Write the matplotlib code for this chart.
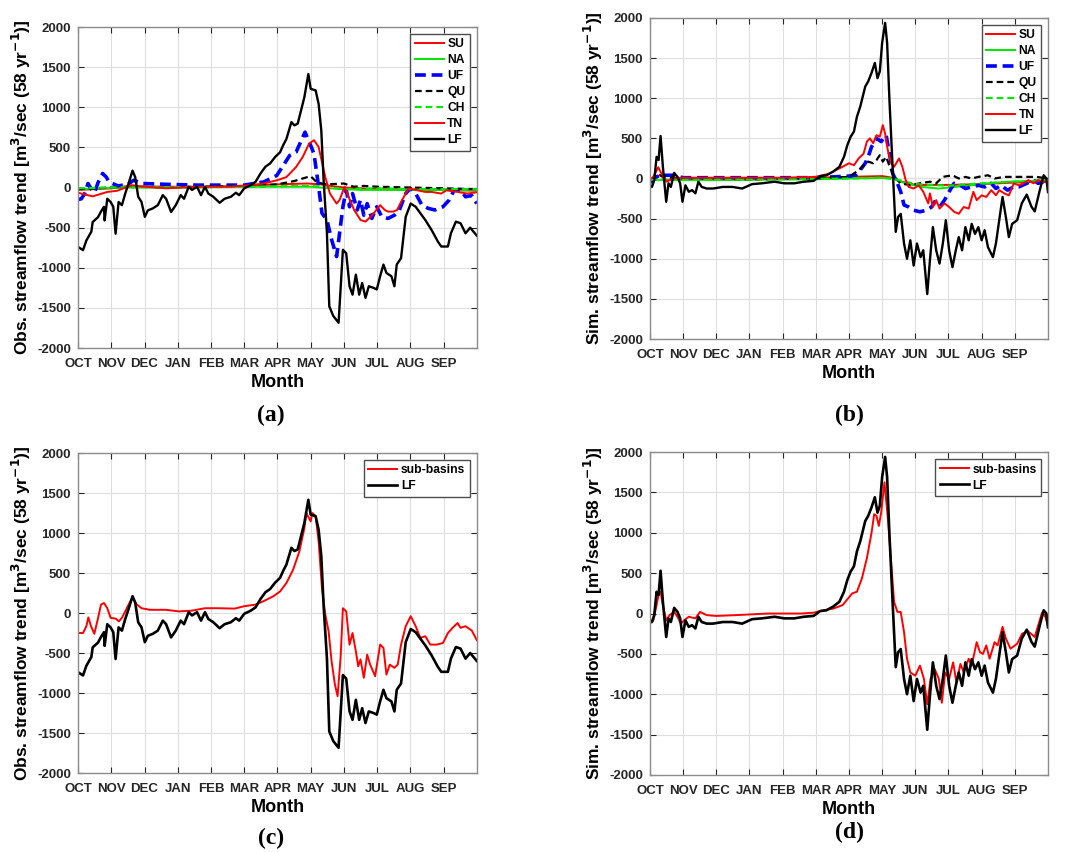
import numpy as np
import matplotlib
matplotlib.use("Agg")
import matplotlib.pyplot as plt

plt.rcParams['font.family'] = ['Liberation Sans', 'DejaVu Sans']
plt.rcParams['font.weight'] = 'bold'
plt.rcParams['axes.unicode_minus'] = False

months = ['OCT', 'NOV', 'DEC', 'JAN', 'FEB', 'MAR', 'APR', 'MAY', 'JUN', 'JUL', 'AUG', 'SEP']
yticks = [-2000, -1500, -1000, -500, 0, 500, 1000, 1500, 2000]

# (month since 1 Oct, trend) pairs
obs_lf = [(0, -740), (0.15, -780), (0.25, -660), (0.4, -550), (0.44, -430), (0.6, -370), (0.69, -300),
          (0.78, -240), (0.8, -410), (0.88, -140), (0.98, -180), (1.06, -240), (1.13, -575), (1.22, -180),
          (1.32, -220), (1.42, -75), (1.52, 50), (1.64, 210), (1.72, 130), (1.81, -115), (1.91, -180),
          (2.01, -365), (2.1, -285), (2.25, -260), (2.4, -220), (2.55, -95), (2.65, -140), (2.8, -305),
          (2.94, -220), (3.09, -95), (3.19, -140), (3.33, 10), (3.43, -30), (3.58, 10), (3.7, -95),
          (3.82, 10), (3.92, -75), (4.07, -115), (4.26, -190), (4.41, -140), (4.6, -115), (4.75, -65),
          (4.85, -95), (5.0, -10), (5.2, 30), (5.34, 70), (5.49, 175), (5.64, 260), (5.78, 300),
          (5.93, 380), (6.08, 440), (6.17, 525), (6.27, 605), (6.42, 815), (6.51, 775), (6.61, 795),
          (6.71, 960), (6.81, 1125), (6.93, 1415), (7.0, 1230), (7.15, 1210), (7.24, 1040), (7.32, 710),
          (7.39, 90), (7.49, -570), (7.56, -1480), (7.68, -1600), (7.84, -1685), (7.97, -775),
          (8.07, -820), (8.17, -1230), (8.26, -1335), (8.36, -1085), (8.46, -1335), (8.55, -1190),
          (8.65, -1375), (8.75, -1230), (8.89, -1250), (8.99, -1270), (9.09, -1105), (9.19, -960),
          (9.28, -1065), (9.43, -1105), (9.52, -1230), (9.59, -960), (9.72, -880), (9.86, -365),
          (10.01, -200), (10.16, -240), (10.3, -320), (10.45, -405), (10.64, -530), (10.83, -675),
          (10.93, -735), (11.13, -735), (11.22, -570), (11.37, -425), (11.51, -445), (11.66, -570),
          (11.8, -500), (12.0, -600)]
obs_su = [(0, -30), (1, -10), (1.6, 20), (2, 10), (4, 10), (5, 20), (6, 40), (6.9, 50), (7.3, 40),
          (7.6, 20), (8, 0), (9, -20), (10, -30), (11, -30), (12, -40)]
obs_na = [(0, -20), (1.5, 0), (3, 0), (5, 10), (7, 10), (7.6, -10), (8.5, -30), (10, -30), (12, -30)]
obs_ch = [(0, -10), (1.5, 5), (4, 5), (6, 15), (7, 20), (7.5, 0), (8, -20), (9, -10), (10, -20), (12, -20)]
obs_qu = [(0, -20), (1.5, 10), (3, 5), (5, 20), (5.6, 30), (6, 40), (6.5, 80), (6.9, 130), (7.0, 140),
          (7.2, 60), (7.5, 40), (8, 50), (8.3, 10), (8.6, 20), (9, 10), (10, 0), (11, -10), (12, -20)]
obs_tn = [(0, -65), (0.44, -110), (0.88, -55), (1.18, -40), (1.62, 30), (1.86, 15), (2.65, -10), (3.6, 10),
          (4.6, 10), (5.2, 30), (5.59, 50), (5.98, 90), (6.27, 130), (6.56, 255), (6.76, 380), (6.95, 545),
          (7.1, 590), (7.24, 505), (7.44, 130), (7.58, -75), (7.78, -200), (7.87, -155), (8.02, 10),
          (8.14, -115), (8.31, -280), (8.5, -405), (8.65, -425), (8.8, -365), (8.94, -300), (9.09, -220),
          (9.23, -280), (9.33, -300), (9.48, -300), (9.6, -280), (9.72, -180), (9.86, -75), (9.96, -10),
          (10.16, -30), (10.45, -55), (10.64, -55), (10.93, -75), (11.08, -35), (11.42, -55), (11.71, -75),
          (12, -60)]
obs_uf = [(0, -150), (0.1, -140), (0.2, -75), (0.3, 50), (0.4, -20), (0.5, -60), (0.6, 60), (0.74, 175),
          (0.85, 130), (0.93, 70), (1.2, 20), (1.5, 40), (1.67, 90), (1.96, 50), (2.65, 40), (3.6, 30),
          (5, 30), (5.59, 70), (5.98, 150), (6.37, 400), (6.56, 440), (6.83, 690), (7.0, 525), (7.1, 420),
          (7.24, 10), (7.34, -320), (7.49, -405), (7.63, -650), (7.78, -860), (7.87, -570), (7.97, -240),
          (8.07, -30), (8.17, -240), (8.26, -75), (8.4, -280), (8.5, -155), (8.6, -345), (8.7, -200),
          (8.84, -385), (8.99, -240), (9.14, -365), (9.33, -385), (9.52, -345), (9.67, -280), (9.86, -75),
          (10.0, -10), (10.16, -75), (10.35, -220), (10.54, -260), (10.74, -280), (10.98, -240),
          (11.17, -155), (11.32, -30), (11.51, -30), (11.66, -115), (11.85, -100), (12, -200)]

sim_lf = [(0, -85), (0.06, -105), (0.13, -20), (0.2, 270), (0.26, 230), (0.32, 530), (0.39, 145),
          (0.49, -290), (0.56, -60), (0.63, -105), (0.73, 70), (0.83, 20), (0.91, -60), (0.98, -290),
          (1.07, -85), (1.17, -165), (1.27, -145), (1.37, -185), (1.46, -40), (1.56, -105), (1.71, -125),
          (1.9, -125), (2.2, -105), (2.49, -105), (2.78, -125), (3.08, -70), (3.37, -60), (3.76, -40),
          (4.05, -60), (4.35, -60), (4.64, -40), (4.93, -30), (5.13, 30), (5.32, 40), (5.52, 85),
          (5.71, 145), (5.85, 270), (5.95, 415), (6.05, 520), (6.15, 585), (6.24, 770), (6.34, 895),
          (6.49, 1145), (6.58, 1210), (6.68, 1315), (6.78, 1440), (6.86, 1250), (6.93, 1335), (7.0, 1690),
          (7.09, 1940), (7.15, 1690), (7.22, 980), (7.32, 105), (7.41, -665), (7.48, -480), (7.56, -440),
          (7.66, -810), (7.75, -1000), (7.85, -770), (7.95, -1085), (8.05, -810), (8.16, -980),
          (8.24, -895), (8.36, -1440), (8.44, -1020), (8.53, -605), (8.63, -895), (8.73, -1060),
          (8.83, -810), (8.92, -520), (9.02, -895), (9.12, -1105), (9.22, -895), (9.31, -730),
          (9.41, -895), (9.51, -605), (9.61, -770), (9.7, -565), (9.8, -690), (9.9, -605), (10.0, -770),
          (10.09, -645), (10.19, -855), (10.34, -980), (10.43, -810), (10.53, -520), (10.63, -230),
          (10.73, -480), (10.82, -730), (10.92, -565), (11.07, -520), (11.21, -310), (11.36, -200),
          (11.5, -350), (11.6, -410), (11.75, -150), (11.87, 40), (11.95, 0), (12, -170)]
sim_su = [(0, -10), (0.3, 40), (0.5, -20), (1, 0), (3, 0), (5, 10), (6, 20), (7, 30), (7.3, 10),
          (7.6, -40), (8, -80), (9, -80), (10, -70), (11, -50), (12, -40)]
sim_na = [(0, -20), (2, -20), (5, -10), (6, 0), (7, 5), (7.3, 0), (7.7, -60), (8.2, -105), (8.7, -125),
          (9.2, -105), (9.7, -85), (10.2, -60), (10.8, -40), (11.5, -30), (12, -20)]
sim_ch = [(0, -15), (3, -10), (6, 0), (7, 10), (7.4, -10), (8, -70), (9, -90), (10, -60), (11, -40), (12, -20)]
sim_qu = [(0, -20), (0.3, 40), (0.6, 10), (1, 0), (3, -10), (5, 0), (6, 20), (6.3, 105), (6.44, 165),
          (6.58, 210), (6.73, 190), (6.83, 230), (6.93, 290), (7.02, 210), (7.12, 270), (7.25, 125),
          (7.36, 20), (7.56, -60), (7.85, -85), (8.14, -60), (8.44, -40), (8.63, -60), (8.83, 20),
          (9.12, 40), (9.31, 0), (9.51, 20), (9.7, 0), (9.9, 20), (10.19, 40), (10.39, 0), (10.68, 20),
          (11.07, 20), (11.36, 20), (11.65, 20), (12, 0)]
sim_uf = [(0, -50), (0.2, 20), (0.3, 40), (0.7, 40), (1.0, 10), (2, 10), (5, 10), (5.5, 20), (6.0, 30),
          (6.2, 40), (6.34, 105), (6.49, 190), (6.58, 270), (6.68, 395), (6.83, 500), (6.97, 460),
          (7.12, 540), (7.22, 310), (7.32, 60), (7.46, -60), (7.56, -165), (7.66, -330), (7.8, -355),
          (7.95, -395), (8.14, -415), (8.34, -395), (8.49, -355), (8.58, -290), (8.73, -355), (8.88, -270),
          (9.02, -165), (9.17, -60), (9.36, -85), (9.51, -125), (9.7, -105), (9.9, -85), (10.09, -105),
          (10.29, -60), (10.43, -125), (10.58, -85), (10.78, -145), (10.97, -105), (11.12, -105),
          (11.36, -60), (11.56, -20), (11.7, -60), (12, -30)]
sim_tn = [(0, -10), (0.1, 20), (0.25, 140), (0.35, 60), (0.5, -40), (0.7, 0), (1, 10), (2, 10), (3, 10),
          (4, 10), (5, 20), (5.4, 60), (5.8, 145), (6.0, 190), (6.15, 165), (6.29, 250), (6.44, 310),
          (6.54, 460), (6.63, 500), (6.73, 440), (6.83, 540), (6.93, 520), (7.02, 665), (7.09, 560),
          (7.17, 355), (7.27, 190), (7.36, 145), (7.51, 250), (7.61, 145), (7.71, -20), (7.8, -105),
          (7.95, -125), (8.1, -85), (8.24, -165), (8.39, -310), (8.44, -185), (8.53, -355), (8.63, -270),
          (8.73, -375), (8.88, -310), (9.02, -355), (9.17, -415), (9.31, -440), (9.46, -355), (9.61, -375),
          (9.75, -165), (9.85, -270), (10.0, -210), (10.14, -230), (10.29, -145), (10.43, -210),
          (10.53, -145), (10.68, -185), (10.82, -210), (10.97, -60), (11.12, -85), (11.26, -60),
          (11.41, -20), (11.56, -60), (11.7, -20), (12, -50)]

obs_sub = [(0, -250), (0.15, -250), (0.25, -165), (0.31, -55), (0.39, -165), (0.49, -260), (0.59, -85),
           (0.69, 105), (0.78, 125), (0.88, 60), (0.98, -60), (1.13, -70), (1.23, -105), (1.32, -60),
           (1.42, 20), (1.52, 105), (1.64, 195), (1.76, 110), (1.91, 60), (2.16, 40), (2.65, 40), (3.04, 20),
           (3.43, 30), (3.82, 60), (4.22, 60), (4.71, 55), (5.0, 85), (5.34, 105), (5.59, 150), (5.88, 210),
           (6.08, 270), (6.27, 375), (6.47, 540), (6.66, 770), (6.81, 1060), (6.87, 1250), (7.0, 1145),
           (7.05, 1250), (7.15, 1210), (7.24, 895), (7.34, 310), (7.44, -20), (7.54, -230), (7.63, -605),
           (7.73, -895), (7.81, -1040), (7.9, -560), (7.97, 60), (8.07, 20), (8.17, -395), (8.26, -250),
           (8.36, -480), (8.43, -665), (8.5, -580), (8.6, -810), (8.7, -520), (8.79, -645), (8.94, -790),
           (9.09, -395), (9.19, -435), (9.28, -770), (9.38, -645), (9.52, -685), (9.62, -645), (9.72, -395),
           (9.86, -165), (10.01, -40), (10.16, -165), (10.3, -310), (10.45, -290), (10.6, -395),
           (10.79, -395), (10.98, -375), (11.13, -250), (11.27, -185), (11.42, -125), (11.51, -185),
           (11.66, -165), (11.85, -220), (12, -340)]
sim_sub = [(0, -125), (0.1, -85), (0.2, 105), (0.26, 230), (0.32, 270), (0.39, 105), (0.49, -85),
           (0.59, -20), (0.73, 20), (0.83, -40), (0.93, -125), (1.03, -85), (1.17, -40), (1.37, -60),
           (1.51, 20), (1.71, -20), (2.0, -30), (2.59, -20), (3.56, 0), (4.54, 0), (4.93, 10), (5.22, 40),
           (5.52, 60), (5.81, 105), (6.1, 250), (6.24, 270), (6.39, 435), (6.54, 685), (6.68, 1000),
           (6.76, 1230), (6.83, 1210), (6.9, 1085), (6.97, 1250), (7.07, 1625), (7.17, 1190), (7.27, 645),
           (7.36, 145), (7.46, 20), (7.56, 20), (7.66, -230), (7.75, -560), (7.85, -730), (8.0, -770),
           (8.14, -645), (8.26, -810), (8.36, -1125), (8.46, -810), (8.58, -685), (8.71, -810),
           (8.8, -1105), (8.9, -730), (9.02, -810), (9.14, -605), (9.24, -855), (9.36, -625), (9.46, -730),
           (9.61, -560), (9.7, -645), (9.85, -355), (9.95, -480), (10.04, -500), (10.14, -395),
           (10.24, -560), (10.39, -355), (10.48, -395), (10.63, -165), (10.73, -310), (10.87, -435),
           (11.07, -375), (11.22, -250), (11.4, -220), (11.6, -290), (11.82, 10), (11.92, -40), (12, -150)]

RED, GREEN, BLUE = (1, 0, 0), (0, 0.9, 0), (0, 0, 1)


def draw(ax, data, label, color, lw, ls='-'):
    x, y = zip(*data)
    ax.plot(x, y, color=color, lw=lw, ls=ls, label=label)


def style(ax, ylabel, tag, tagx, tagy):
    ax.set_xlim(0, 12)
    ax.set_ylim(-2000, 2000)
    ax.set_xticks(range(12))
    ax.set_xticklabels(months)
    ax.set_yticks(yticks)
    ax.tick_params(direction='in', length=4, width=0.8, labelsize=9.5, colors='0.15',
                   top=True, right=True)
    ax.tick_params(axis='x', pad=7)
    ax.tick_params(axis='y', pad=5)
    ax.grid(True, color='0.87', lw=0.8)
    ax.set_axisbelow(True)
    for s in ax.spines.values():
        s.set_color('0.55')
        s.set_linewidth(1.0)
    ax.set_xlabel('Month', fontsize=13, fontweight='bold', labelpad=3)
    ax.set_ylabel(ylabel, fontsize=12.5, fontweight='bold', labelpad=3)
    ax.figure.text(tagx, tagy, tag, ha='center', va='center', fontsize=17,
                   family='Liberation Serif', fontweight='bold')


def legend(ax):
    leg = ax.legend(loc='upper right', fontsize=8.7, handlelength=2.4, labelspacing=0.33,
                    borderaxespad=0.6, fancybox=False, framealpha=1, borderpad=0.35,
                    handletextpad=0.3)
    leg.get_frame().set_edgecolor('0.3')
    leg.get_frame().set_linewidth(1.0)
    for t in leg.get_texts():
        t.set_fontweight('bold')


obs_label = r'Obs. streamflow trend [m$^{\mathbf{3}}$/sec (58 yr$^{\mathbf{-1}}$)]'
sim_label = r'Sim. streamflow trend [m$^{\mathbf{3}}$/sec (58 yr$^{\mathbf{-1}}$)]'

fig = plt.figure(figsize=(10.72, 8.52), dpi=100)
ax_a = fig.add_axes([0.0728, 0.5915, 0.372, 0.3768])
ax_b = fig.add_axes([0.6063, 0.6021, 0.3713, 0.3768])
ax_c = fig.add_axes([0.0728, 0.0927, 0.372, 0.3756])
ax_d = fig.add_axes([0.6063, 0.0904, 0.3713, 0.3790])

for ax, su, na, uf, qu, ch, tn, lf in [(ax_a, obs_su, obs_na, obs_uf, obs_qu, obs_ch, obs_tn, obs_lf),
                                       (ax_b, sim_su, sim_na, sim_uf, sim_qu, sim_ch, sim_tn, sim_lf)]:
    draw(ax, su, 'SU', RED, 1.4)
    draw(ax, na, 'NA', GREEN, 1.4)
    draw(ax, uf, 'UF', BLUE, 2.6, (0, (3, 1.6)))
    draw(ax, qu, 'QU', 'k', 1.6, (0, (3, 1.8)))
    draw(ax, ch, 'CH', GREEN, 1.6, (0, (3, 1.8)))
    draw(ax, tn, 'TN', RED, 1.4)
    draw(ax, lf, 'LF', 'k', 1.7)
    legend(ax)

for ax, sub, lf in [(ax_c, obs_sub, obs_lf), (ax_d, sim_sub, sim_lf)]:
    draw(ax, sub, 'sub-basins', RED, 1.4)
    draw(ax, lf, 'LF', 'k', 1.9)
    legend(ax)

style(ax_a, obs_label, '(a)', 0.253, 1 - 415 / 852)
style(ax_b, sim_label, '(b)', 0.792, 1 - 415 / 852)
style(ax_c, obs_label, '(c)', 0.253, 1 - 838 / 852)
style(ax_d, sim_label, '(d)', 0.792, 1 - 832 / 852)

fig.savefig('out.png', dpi=100, facecolor='white')
